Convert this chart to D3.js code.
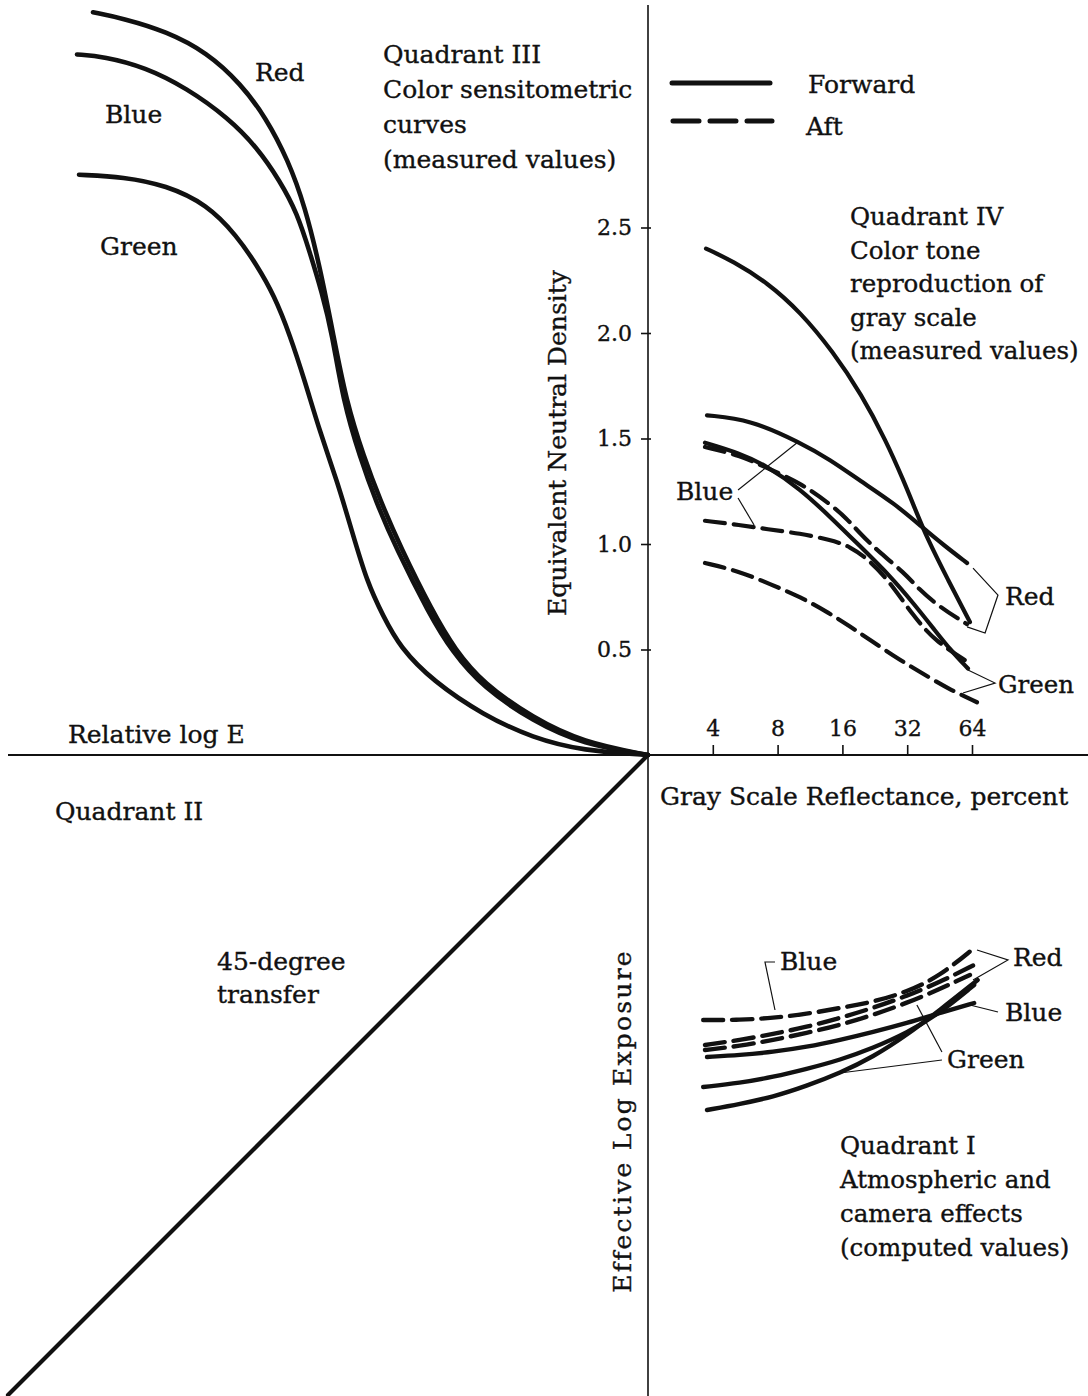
<!DOCTYPE html>
<html>
<head>
<meta charset="utf-8">
<script src="https://cdn.jsdelivr.net/npm/d3@7"></script>
<style>
  body { margin: 0; background: #fff; }
  svg { display: block; }
  text { font-family: "DejaVu Serif", "Liberation Serif", serif; fill: #111; stroke: #111; stroke-width: 0.35px; }
</style>
</head>
<body>
<svg id="chart"></svg>
<script>
const width = 1088, height = 1396;

// Quadrant III - sensitometric curves [relative log E, density]
const q3Red = [[0.425,3.52],[0.58,3.49],[0.79,3.43],[0.995,3.33],[1.165,3.18],[1.29,3.02],[1.40,2.82],[1.485,2.60],[1.56,2.31],[1.625,2.00],[1.69,1.68],[1.78,1.41],[1.86,1.21],[1.96,0.99],[2.125,0.675],[2.235,0.50],[2.375,0.34],[2.625,0.175],[2.875,0.06],[3.2,0]];
const q3Blue = [[0.345,3.32],[0.48,3.31],[0.685,3.26],[0.895,3.16],[1.10,3.02],[1.245,2.88],[1.36,2.72],[1.445,2.57],[1.51,2.38],[1.57,2.19],[1.62,2.00],[1.675,1.68],[1.76,1.41],[1.84,1.20],[1.94,0.98],[2.105,0.67],[2.22,0.49],[2.375,0.32],[2.625,0.16],[2.875,0.05],[3.2,0]];
const q3Green = [[0.355,2.75],[0.58,2.74],[0.79,2.70],[0.995,2.61],[1.145,2.46],[1.245,2.32],[1.33,2.18],[1.41,1.99],[1.485,1.77],[1.56,1.53],[1.645,1.30],[1.72,1.06],[1.795,0.82],[1.875,0.66],[1.96,0.51],[2.125,0.35],[2.375,0.19],[2.625,0.08],[2.875,0.02],[3.2,0]];

// Quadrant IV - tone reproduction [reflectance %, density]
const q4RedFwd = [[3.72,2.40],[4.97,2.34],[7.14,2.24],[10.2,2.10],[14.5,1.91],[19.6,1.71],[25.5,1.49],[30.8,1.30],[35.0,1.16],[39.5,1.03],[49.5,0.83],[62.6,0.63]];
const q4BlueFwd = [[3.76,1.61],[5.96,1.59],[10.2,1.48],[14.0,1.40],[19.3,1.30],[28.1,1.19],[37.5,1.08],[47.9,0.99],[60.7,0.91]];
const q4GreenFwd = [[3.68,1.48],[5.35,1.43],[7.14,1.37],[10.2,1.26],[14.0,1.13],[19.3,0.99],[26.6,0.85],[34.8,0.71],[43.1,0.59],[50.6,0.50],[61.3,0.41]];
const q4RedAft = [[3.68,1.46],[5.35,1.42],[7.14,1.36],[10.2,1.29],[14.0,1.19],[16.8,1.12],[19.3,1.05],[23.2,0.97],[31.3,0.86],[35.9,0.79],[45.4,0.70],[60.7,0.62]];
const q4BlueAft = [[3.68,1.11],[5.35,1.09],[7.14,1.07],[10.2,1.05],[14.0,1.02],[17.35,0.99],[21.5,0.92],[26.6,0.82],[34.1,0.66],[43.1,0.54],[61.3,0.44]];
const q4GreenAft = [[3.68,0.91],[5.35,0.87],[7.37,0.81],[10.2,0.75],[14.0,0.67],[17.35,0.61],[21.5,0.545],[29.6,0.45],[40.9,0.365],[50.6,0.31],[67.5,0.25]];

// Quadrant I - effective exposure [reflectance %, relative log E]
const q1BlueAft = [[3.61,1.875],[5.35,1.875],[7.61,1.885],[10.9,1.905],[15.6,1.935],[22.2,1.965],[31.9,2.015],[45.4,2.095],[65.5,2.235]];
const q1RedAft = [[3.68,1.75],[5.35,1.775],[7.61,1.805],[10.9,1.84],[15.6,1.885],[22.2,1.935],[31.9,1.995],[45.4,2.065],[65.5,2.15]];
const q1GreenAft = [[3.68,1.725],[5.35,1.745],[7.61,1.775],[10.9,1.81],[15.6,1.85],[22.2,1.90],[31.9,1.96],[45.4,2.03],[62.6,2.10]];
const q1BlueFwd = [[3.76,1.69],[5.35,1.70],[7.61,1.715],[10.9,1.74],[15.6,1.775],[22.2,1.815],[31.9,1.86],[45.4,1.91],[65.5,1.96]];
const q1RedFwd = [[3.61,1.54],[5.35,1.56],[7.61,1.59],[10.9,1.63],[15.6,1.675],[22.2,1.735],[31.9,1.81],[45.4,1.91],[65.5,2.05]];
const q1GreenFwd = [[3.76,1.425],[5.35,1.455],[7.61,1.49],[10.9,1.545],[15.6,1.61],[22.2,1.69],[31.9,1.80],[45.4,1.925],[68,2.075]];

// Quadrant II - 45-degree transfer [log E, log E]
const transfer = [[0,0],[3.2,3.2]];

// axis ticks
const densityTicks = [0.5, 1.0, 1.5, 2.0, 2.5];
const reflectanceTicks = [4, 8, 16, 32, 64];

// leader lines for colour labels
const q4BlueLeaders = [[[5.24,1.256],[9.95,1.483]], [[5.24,1.218],[6.22,1.09]]];
const q4RedBracket = [[64.7,0.886],[84.5,0.758],[73.6,0.578],[60.7,0.607]];
const q4GreenBracket = [[61.3,0.403],[81.9,0.341],[58.1,0.294]];
const q1BlueAftLeader = [[7.78,2.165],[6.99,2.165],[7.78,1.925]];
const q1RedBracket = [[67.5,2.225],[94,2.175],[64.7,2.075]];
const q1BlueFwdLeader = [[84.5,1.915],[62.6,1.95]];
const q1GreenLeaders = [[[46.4,1.715],[35.5,1.95]], [[46.4,1.675],[15.6,1.61]]];

const svg = d3.select("#chart").attr("width", width).attr("height", height);
svg.append("rect").attr("width", width).attr("height", height).attr("fill", "#fff");

// scales
const xE = d3.scaleLinear().domain([0, 3.2]).range([8, 648]);        // Q3 horizontal
const yDen = d3.scaleLinear().domain([0, 2.5]).range([755, 227.5]);  // Q3/Q4 vertical
const xRef = d3.scaleLog().base(2).domain([2, 64]).range([648, 972]); // Q4/Q1 horizontal
const yExp = d3.scaleLinear().domain([0, 3.2]).range([1395, 755]);   // Q1 vertical

const ox = xRef(2), oy = yDen(0);

// main cross axes
svg.append("line").attr("x1", ox).attr("x2", ox).attr("y1", 5).attr("y2", height)
  .attr("stroke", "#111").attr("stroke-width", 1.6);
svg.append("line").attr("x1", 8).attr("x2", width).attr("y1", oy).attr("y2", oy)
  .attr("stroke", "#111").attr("stroke-width", 2);

// density axis ticks
const yAxis = svg.append("g")
  .attr("transform", `translate(${ox},0)`)
  .call(d3.axisLeft(yDen).tickValues(densityTicks).tickFormat(d3.format(".1f")).tickSize(7).tickPadding(9));
yAxis.select(".domain").remove();
yAxis.selectAll(".tick line").attr("x2", -7).attr("x1", 3).attr("stroke", "#111").attr("stroke-width", 1.6);
yAxis.selectAll(".tick text").style("font-family", "DejaVu Serif").style("font-size", "22px").attr("fill", "#111");

// reflectance axis ticks
const xAxis = svg.append("g")
  .attr("transform", `translate(0,${oy})`)
  .call(d3.axisTop(xRef).tickValues(reflectanceTicks).tickFormat(d => d).tickSize(10).tickPadding(9));
xAxis.select(".domain").remove();
xAxis.selectAll(".tick line").attr("stroke", "#111").attr("stroke-width", 1.6);
xAxis.selectAll(".tick text").style("font-family", "DejaVu Serif").style("font-size", "22px").attr("fill", "#111");

const smooth = d3.curveBasis;
const lineQ3 = d3.line().x(d => xE(d[0])).y(d => yDen(d[1])).curve(smooth);
const lineQ4 = d3.line().x(d => xRef(d[0])).y(d => yDen(d[1])).curve(smooth);
const lineQ1 = d3.line().x(d => xRef(d[0])).y(d => yExp(d[1])).curve(smooth);
const lineQ2 = d3.line().x(d => xE(d[0])).y(d => yExp(d[1]));

const dash = "20,9";

function curve(gen, data, dashed, w) {
  svg.append("path")
    .attr("d", gen(data))
    .attr("fill", "none")
    .attr("stroke", "#111")
    .attr("stroke-width", w || 4)
    .attr("stroke-linecap", "round")
    .attr("stroke-linejoin", "round")
    .attr("stroke-dasharray", dashed ? dash : null);
}

function leader(gen, data) {
  svg.append("path")
    .attr("d", d3.line().x(gen.x()).y(gen.y())(data))
    .attr("fill", "none")
    .attr("stroke", "#111")
    .attr("stroke-width", 1.2);
}

// Quadrant III
[q3Red, q3Blue, q3Green].forEach(d => curve(lineQ3, d, false, 4.6));

// Quadrant II
curve(lineQ2, transfer, false, 4.2);

// Quadrant IV
[q4RedFwd, q4BlueFwd, q4GreenFwd].forEach(d => curve(lineQ4, d, false, 4.2));
[q4RedAft, q4BlueAft, q4GreenAft].forEach(d => curve(lineQ4, d, true, 4.2));

// Quadrant I
[q1BlueFwd, q1RedFwd, q1GreenFwd].forEach(d => curve(lineQ1, d, false, 4.4));
[q1BlueAft, q1RedAft, q1GreenAft].forEach(d => curve(lineQ1, d, true, 4.4));

// leaders
q4BlueLeaders.forEach(d => leader(lineQ4, d));
leader(lineQ4, q4RedBracket);
leader(lineQ4, q4GreenBracket);
leader(lineQ1, q1BlueAftLeader);
leader(lineQ1, q1RedBracket);
leader(lineQ1, q1BlueFwdLeader);
q1GreenLeaders.forEach(d => leader(lineQ1, d));

// legend
svg.append("line").attr("x1", 672).attr("x2", 770).attr("y1", 83).attr("y2", 83)
  .attr("stroke", "#111").attr("stroke-width", 5).attr("stroke-linecap", "round");
svg.append("line").attr("x1", 673).attr("x2", 772).attr("y1", 121).attr("y2", 121)
  .attr("stroke", "#111").attr("stroke-width", 5).attr("stroke-linecap", "round")
  .attr("stroke-dasharray", "26,11");

// multi-line text blocks
function block(x, y, lines, lh, size) {
  const t = svg.append("text").attr("x", x).attr("y", y).style("font-size", (size || 25) + "px");
  lines.forEach((s, i) => t.append("tspan").attr("x", x).attr("dy", i ? lh : 0).text(s));
}

block(808, 93, ["Forward"]);
block(806, 135, ["Aft"]);

block(383, 63, ["Quadrant III", "Color sensitometric", "curves", "(measured values)"], 35);
block(255, 81, ["Red"]);
block(105, 123, ["Blue"]);
block(100, 255, ["Green"]);

block(850, 225, ["Quadrant IV", "Color tone", "reproduction of", "gray scale", "(measured values)"], 33.5, 24.5);
block(676, 500, ["Blue"]);
block(1005, 605, ["Red"]);
block(998, 693, ["Green"], 0, 24.5);

block(68, 743, ["Relative log E"]);
block(660, 805, ["Gray Scale Reflectance, percent"]);
block(55, 820, ["Quadrant II"]);
block(217, 970, ["45-degree", "transfer"], 33);

block(840, 1154, ["Quadrant I", "Atmospheric and", "camera effects", "(computed values)"], 34, 24.5);
block(780, 970, ["Blue"]);
block(1013, 966, ["Red"]);
block(1005, 1021, ["Blue"]);
block(947, 1068, ["Green"]);

// rotated axis titles
svg.append("text")
  .attr("transform", "translate(566,443) rotate(-90)")
  .attr("text-anchor", "middle")
  .style("font-size", "25px")
  .text("Equivalent Neutral Density");
svg.append("text")
  .attr("transform", "translate(631,1121) rotate(-90)")
  .attr("text-anchor", "middle")
  .style("font-size", "25px")
  .style("letter-spacing", "2.2px")
  .text("Effective Log Exposure");
</script>
</body>
</html>
